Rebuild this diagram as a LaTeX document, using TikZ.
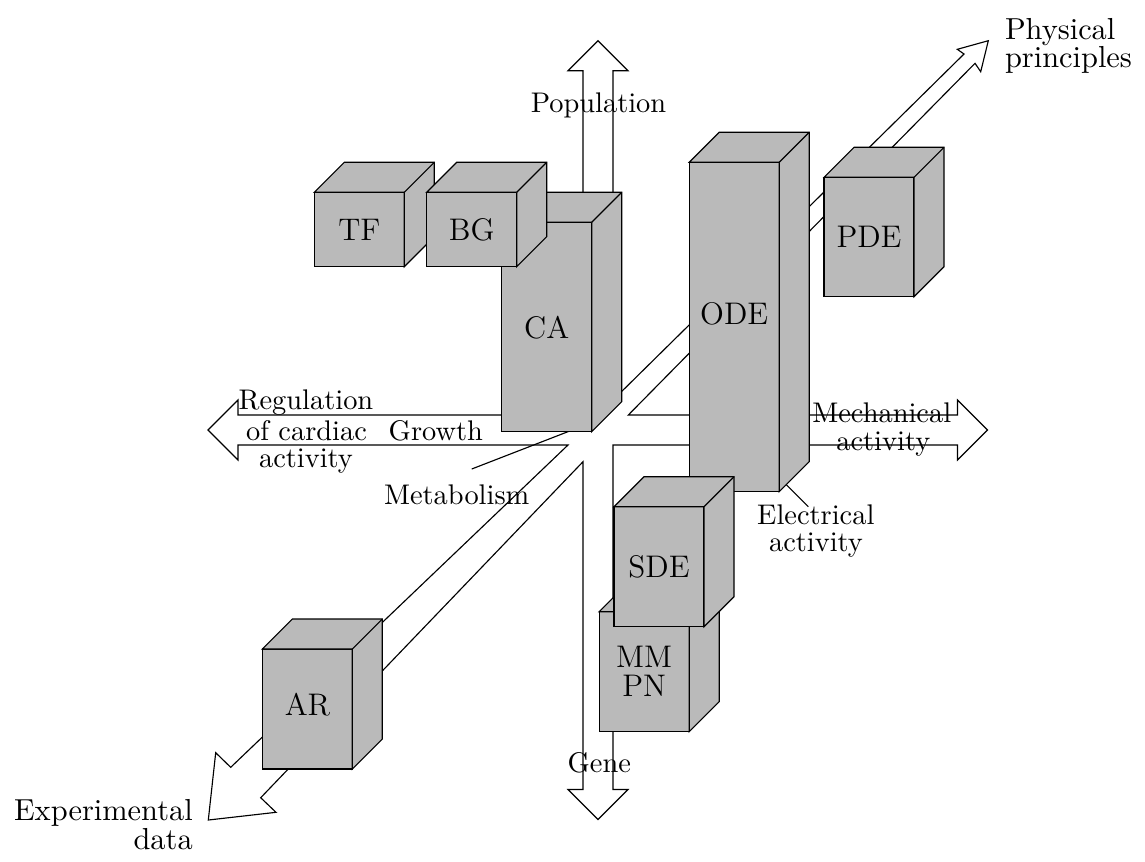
\documentclass[tikz,border=0pt]{standalone}
\usetikzlibrary{calc}
\definecolor{boxgray}{gray}{0.73}
\def\px{0.35211pt}
\tikzset{
  front/.style={draw=black, fill=boxgray, rectangle, inner sep=0pt, outer sep=0pt,
    align=center, font=\fontsize{11}{10.2}\selectfont},
  face/.style={draw=black, fill=boxgray, line join=miter},
  axis/.style={draw=black, line join=miter},
  lbl/.style={inner sep=0pt, outer sep=0pt, font=\fontsize{10}{12}\selectfont},
  endlbl/.style={inner sep=0pt, outer sep=0pt, font=\fontsize{10.7}{12}\selectfont},
  leader/.style={draw=black},
}
\newcommand\mycube[5]{%
  \node[front, minimum width={#3*\px}, minimum height={#4*\px}] (#1) at (#2) {#5};
  \filldraw[face] (#1.north west) -- ++(30,-30) -- ++(#3,0) -- ++(0,#4) -- (#1.south east) -- (#1.north east) -- cycle;
  \draw[face] (#1.north east) -- ++(30,-30);
}
\begin{document}
\begin{tikzpicture}[x=0.35211pt, y=-0.35211pt]
\useasboundingbox (0,0) rectangle (1145,861);
% three double arrows (outline of their union)
\draw[axis] (208,430) -- (238,400) -- (238,415) -- (583,415) -- (583,70.7) -- (568,70.7)
  -- (598,40.7) -- (628,70.7) -- (613,70.7) -- (613,400) -- (964,54) -- (957.3,49.3)
  -- (988.3,40.7) -- (980.7,71.7) -- (975,63.3) -- (628.3,415) -- (957.5,415) -- (957.5,400)
  -- (987.5,430) -- (957.5,460) -- (957.5,445) -- (613,445) -- (613,789.5) -- (628,789.5)
  -- (598,819.5) -- (568,789.5) -- (583,789.5) -- (583,461.7) -- (260.7,797.7) -- (276,812.3)
  -- (208.3,820) -- (215.7,752.7) -- (230.7,767.3) -- (568,445) -- (238,445) -- (238,460) -- cycle;
% leader lines
\coordinate (metaA) at (471.7,469);
\coordinate (metaB) at (580,427);
\draw[leader] (metaA) -- (metaB);
\coordinate (elecA) at (808.3,506.7);
\coordinate (elecB) at (782,480.4);
\draw[leader] (elecA) -- (elecB);
% boxes
\mycube{tf}{359.3,229.5}{90}{74.4}{TF}
\mycube{ca}{546.7,327}{90}{209.4}{}
\node[front, draw=none, fill=none] (cal) at (546.7,328) {CA};
\mycube{bg}{471.7,229.5}{90}{74.4}{BG}
\mycube{ode}{734.2,327}{90}{329.4}{}
\node[front, draw=none, fill=none] (odel) at (734.2,314) {ODE};
\mycube{pde}{869,237}{90}{119.4}{PDE}
\mycube{mmpn}{644.2,671.7}{90}{120}{MM\\PN}
\mycube{sde}{659,566.7}{90}{120}{SDE}
\mycube{ar}{307.3,709}{90}{120}{}
\node[front, draw=none, fill=none] (arl) at (307.5,704.5) {AR};
% labels
\node[lbl, anchor=base] (pop) at (598.5,112.5) {Population};
\node[lbl, anchor=base] (reg1) at (306,409.5) {Regulation};
\node[lbl, anchor=base] (reg2) at (306.5,440.5) {of cardiac};
\node[lbl, anchor=base] (reg3) at (306,467) {activity};
\node[lbl, anchor=base] (growth) at (435.8,440.5) {Growth};
\node[lbl, anchor=base] (meta) at (456.7,504) {Metabolism};
\node[lbl, anchor=base] (mech1) at (881.7,422.8) {Mechanical};
\node[lbl, anchor=base] (mech2) at (883.3,450) {activity};
\node[lbl, anchor=base] (elec1) at (815.8,524.4) {Electrical};
\node[lbl, anchor=base] (elec2) at (816,551.7) {activity};
\node[lbl, anchor=base] (gene) at (599.3,772.8) {Gene};
\node[endlbl, anchor=base west] (phys1) at (1005,39.4) {Physical};
\node[endlbl, anchor=base west] (phys2) at (1005,67.5) {principles};
\node[endlbl, anchor=base east] (exp1) at (192.7,820.5) {Experimental};
\node[endlbl, anchor=base east] (exp2) at (192.7,849) {data};
\end{tikzpicture}
\end{document}
